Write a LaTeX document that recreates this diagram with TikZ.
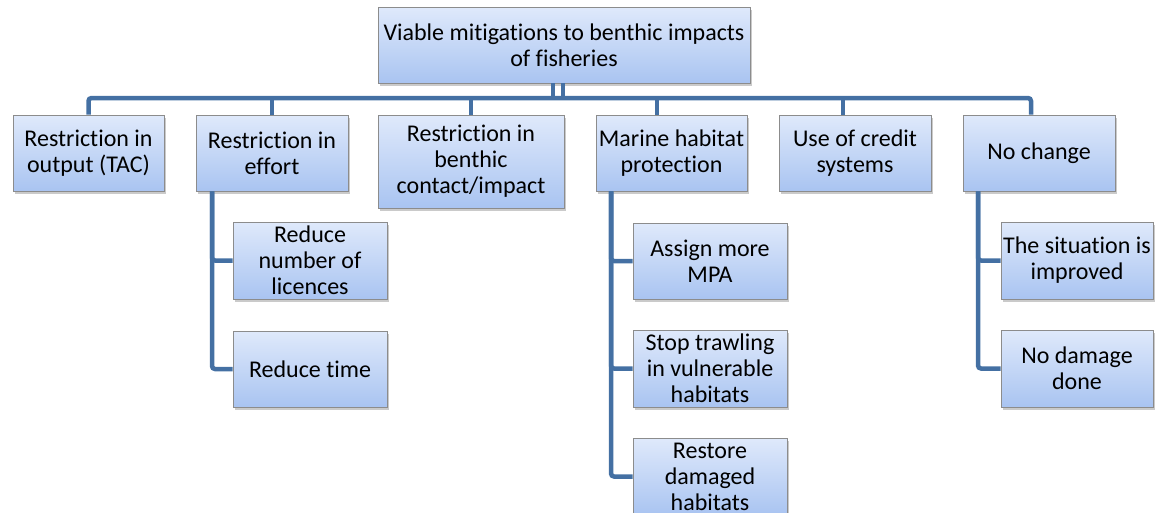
\documentclass[tikz,border=0pt]{standalone}
\usepackage{fontspec}
\setmainfont[Ligatures=NoCommon]{Carlito}
\usetikzlibrary{shadows}
\definecolor{conncol}{HTML}{4470A3}
\definecolor{boxtop}{HTML}{DFE9FB}
\definecolor{boxbot}{HTML}{A9C4F1}
\definecolor{boxedge}{HTML}{8C8C8C}
\begin{document}
\begin{tikzpicture}[x=1pt,y=-1pt,
  box/.style={draw=boxedge, line width=0.9pt, top color=boxtop, bottom color=boxbot,
    align=center, inner sep=2pt, font=\fontsize{24}{26}\selectfont,
    drop shadow={shadow xshift=2pt, shadow yshift=-3pt, opacity=0.35, fill=black!60}},
  conn/.style={draw=conncol, line width=4.5pt, rounded corners=3pt}]
\useasboundingbox (0,0) rectangle (1156,512);
\begin{scope}
\clip (0,0) rectangle (1156,512);
% top
\node[box, minimum width=372pt, minimum height=76pt] (top) at (564,45) {Viable mitigations to benthic impacts\\of fisheries};
% level 1
\node[box, minimum width=151pt, minimum height=76pt] (b1) at (88.5,153) {Restriction in\\output (TAC)};
\node[box, minimum width=152pt, minimum height=76pt] (b2) at (272,153) {Restriction in\\effort};
\node[box, minimum width=186pt, minimum height=93pt] (b3) at (471,161.5) {Restriction in\\benthic\\contact/impact};
\node[box, minimum width=151pt, minimum height=76pt] (b4) at (671.5,153) {Marine habitat\\protection};
\node[box, minimum width=152pt, minimum height=76pt] (b5) at (855,153) {Use of credit\\systems};
\node[box, minimum width=152pt, minimum height=76pt] (b6) at (1039,153) {No change};
% level 2
\node[box, minimum width=154pt, minimum height=77pt] (c21) at (310,260.5) {Reduce\\number of\\licences};
\node[box, minimum width=154pt, minimum height=76pt] (c22) at (310,369) {Reduce time};
\node[box, minimum width=154pt, minimum height=76pt] (c41) at (710,261) {Assign more\\MPA};
\node[box, minimum width=154pt, minimum height=77pt] (c42) at (710,368.5) {Stop trawling\\in vulnerable\\habitats};
\node[box, minimum width=154pt, minimum height=77pt] (c43) at (710,476.5) {Restore\\damaged\\habitats};
\node[box, minimum width=152pt, minimum height=77pt] (c61) at (1077,260.5) {The situation is\\improved};
\node[box, minimum width=152pt, minimum height=77pt] (c62) at (1077,368.5) {No damage\\done};
\coordinate (bus) at (564,98);
\end{scope}
% connectors
\draw[conn] (b1.north) |- (bus) -| ([xshift=-8pt]b6.north);
\draw[conn] ([xshift=-11pt]top.south) -- ([xshift=-11pt]top.south |- bus);
\draw[conn] ([xshift=-1pt]top.south) -- ([xshift=-1pt]top.south |- bus);
\draw[conn] (b2.north) -- (b2.north |- bus);
\draw[conn] (b3.north) -- (b3.north |- bus);
\draw[conn] ([xshift=-14.5pt]b4.north) -- ([xshift=-14.5pt]b4.north |- bus);
\draw[conn] ([xshift=-12pt]b5.north) -- ([xshift=-12pt]b5.north |- bus);
% children
\draw[conn] ([xshift=-60pt]b2.south) |- (c21.west);
\draw[conn] ([xshift=-60pt]b2.south) |- (c22.west);
\draw[conn] ([xshift=-60.5pt]b4.south) |- (c41.west);
\draw[conn] ([xshift=-60.5pt]b4.south) |- (c42.west);
\draw[conn] ([xshift=-60.5pt]b4.south) |- (c43.west);
\draw[conn] ([xshift=-61pt]b6.south) |- (c61.west);
\draw[conn] ([xshift=-61pt]b6.south) |- (c62.west);
\end{tikzpicture}
\end{document}
